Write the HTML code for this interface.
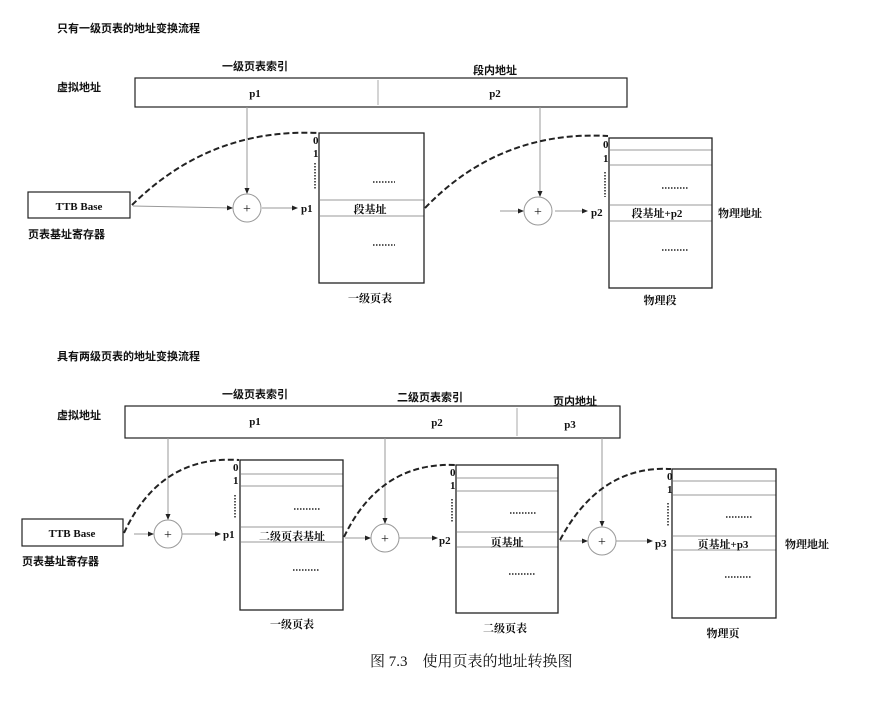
<!DOCTYPE html>
<html><head><meta charset="utf-8"><style>
body{margin:0;background:#fff}
svg text{font-family:"Liberation Serif","Noto Serif CJK SC","WenQuanYi Zen Hei",serif;fill:#111}
.b{font-weight:bold;font-family:"Liberation Serif","Noto Sans CJK SC",serif}
</style></head><body>
<svg width="871" height="705" viewBox="0 0 871 705" xmlns="http://www.w3.org/2000/svg">
<defs><marker id="a" markerWidth="6" markerHeight="6" refX="5" refY="3" orient="auto"><path d="M0,0.5 L6,3 L0,5.5z" fill="#222"/></marker></defs>
<g font-size="11" class="b">
<text x="57" y="32" class="b">只有一级页表的地址变换流程</text>
<text x="255" y="70" text-anchor="middle" class="b">一级页表索引</text>
<text x="495" y="74" text-anchor="middle" class="b">段内地址</text>
<text x="57" y="91" class="b">虚拟地址</text>
</g>
<rect x="135" y="78" width="492" height="29" fill="none" stroke="#222" stroke-width="1.2"/>
<line x1="378" y1="80" x2="378" y2="105" stroke="#aaa"/>
<text x="255" y="97" font-size="11" text-anchor="middle" class="b">p1</text>
<text x="495" y="97" font-size="11" text-anchor="middle" class="b">p2</text>
<rect x="28" y="192" width="102" height="26" fill="none" stroke="#222" stroke-width="1.2"/>
<text x="79" y="210" font-size="11" text-anchor="middle" class="b">TTB Base</text>
<text x="28" y="238" font-size="11" class="b">页表基址寄存器</text>
<g stroke="#999" fill="none">
<line x1="247" y1="107" x2="247" y2="193" marker-end="url(#a)"/>
<line x1="133" y1="206" x2="232" y2="208" marker-end="url(#a)"/>
<line x1="262" y1="208" x2="297" y2="208" marker-end="url(#a)"/>
<circle cx="247" cy="208" r="14"/>
<line x1="540" y1="107" x2="540" y2="196" marker-end="url(#a)"/>
<line x1="500" y1="211" x2="523" y2="211" marker-end="url(#a)"/>
<line x1="555" y1="211" x2="587" y2="211" marker-end="url(#a)"/>
<circle cx="538" cy="211" r="14"/>
<line x1="320" y1="200" x2="424" y2="200"/><line x1="320" y1="216" x2="424" y2="216"/>
<line x1="610" y1="150" x2="712" y2="150"/><line x1="610" y1="165" x2="712" y2="165"/>
<line x1="610" y1="205" x2="712" y2="205"/><line x1="610" y1="221" x2="712" y2="221"/>
</g>
<text x="247" y="213" font-size="14" text-anchor="middle">+</text>
<text x="538" y="216" font-size="14" text-anchor="middle">+</text>
<rect x="319" y="133" width="105" height="150" fill="none" stroke="#222" stroke-width="1.3"/>
<rect x="609" y="138" width="103" height="150" fill="none" stroke="#222" stroke-width="1.3"/>
<g font-size="11" class="b">
<text x="313" y="144">0</text><text x="313" y="157">1</text>
<text x="301" y="212">p1</text>
<text x="370" y="213" text-anchor="middle">段基址</text>
<text x="370" y="302" text-anchor="middle">一级页表</text>
<text x="603" y="148">0</text><text x="603" y="162">1</text>
<text x="591" y="216">p2</text>
<text x="657" y="217" text-anchor="middle">段基址+p2</text>
<text x="718" y="217">物理地址</text>
<text x="660" y="304" text-anchor="middle">物理段</text>
</g>
<g stroke="#222" stroke-width="1.5" stroke-dasharray="1.5,1.5">
<line x1="315" y1="163" x2="315" y2="190"/><line x1="605" y1="172" x2="605" y2="197"/>
<line x1="373" y1="182" x2="395" y2="182"/><line x1="373" y1="245" x2="395" y2="245"/>
<line x1="662" y1="188" x2="688" y2="188"/><line x1="662" y1="250" x2="688" y2="250"/>
</g>
<g stroke="#222" stroke-width="2" fill="none" stroke-dasharray="6,3">
<path d="M132,205 Q210,128 318,133"/>
<path d="M425,208 Q500,130 608,136"/>
</g>

<g font-size="11" class="b">
<text x="57" y="360" class="b">具有两级页表的地址变换流程</text>
<text x="255" y="398" text-anchor="middle" class="b">一级页表索引</text>
<text x="430" y="401" text-anchor="middle" class="b">二级页表索引</text>
<text x="575" y="405" text-anchor="middle" class="b">页内地址</text>
<text x="57" y="419" class="b">虚拟地址</text>
</g>
<rect x="125" y="406" width="495" height="32" fill="none" stroke="#222" stroke-width="1.2"/>
<line x1="517" y1="408" x2="517" y2="436" stroke="#aaa"/>
<text x="255" y="425" font-size="11" text-anchor="middle" class="b">p1</text>
<text x="437" y="426" font-size="11" text-anchor="middle" class="b">p2</text>
<text x="570" y="428" font-size="11" text-anchor="middle" class="b">p3</text>
<rect x="22" y="519" width="101" height="27" fill="none" stroke="#222" stroke-width="1.2"/>
<text x="72" y="537" font-size="11" text-anchor="middle" class="b">TTB Base</text>
<text x="22" y="565" font-size="11" class="b">页表基址寄存器</text>
<g stroke="#999" fill="none">
<line x1="168" y1="438" x2="168" y2="519" marker-end="url(#a)"/>
<line x1="134" y1="534" x2="153" y2="534" marker-end="url(#a)"/>
<line x1="182" y1="534" x2="220" y2="534" marker-end="url(#a)"/>
<circle cx="168" cy="534" r="14"/>
<line x1="385" y1="438" x2="385" y2="523" marker-end="url(#a)"/>
<line x1="345" y1="538" x2="370" y2="538" marker-end="url(#a)"/>
<line x1="399" y1="538" x2="437" y2="538" marker-end="url(#a)"/>
<circle cx="385" cy="538" r="14"/>
<line x1="602" y1="438" x2="602" y2="526" marker-end="url(#a)"/>
<line x1="560" y1="541" x2="587" y2="541" marker-end="url(#a)"/>
<line x1="616" y1="541" x2="652" y2="541" marker-end="url(#a)"/>
<circle cx="602" cy="541" r="14"/>
<line x1="241" y1="474" x2="343" y2="474"/><line x1="241" y1="486" x2="343" y2="486"/>
<line x1="241" y1="527" x2="343" y2="527"/><line x1="241" y1="542" x2="343" y2="542"/>
<line x1="457" y1="478" x2="558" y2="478"/><line x1="457" y1="491" x2="558" y2="491"/>
<line x1="457" y1="532" x2="558" y2="532"/><line x1="457" y1="547" x2="558" y2="547"/>
<line x1="673" y1="481" x2="776" y2="481"/><line x1="673" y1="495" x2="776" y2="495"/>
<line x1="673" y1="536" x2="776" y2="536"/><line x1="673" y1="550" x2="776" y2="550"/>
</g>
<text x="168" y="539" font-size="14" text-anchor="middle">+</text>
<text x="385" y="543" font-size="14" text-anchor="middle">+</text>
<text x="602" y="546" font-size="14" text-anchor="middle">+</text>
<rect x="240" y="460" width="103" height="150" fill="none" stroke="#222" stroke-width="1.3"/>
<rect x="456" y="465" width="102" height="148" fill="none" stroke="#222" stroke-width="1.3"/>
<rect x="672" y="469" width="104" height="149" fill="none" stroke="#222" stroke-width="1.3"/>
<g font-size="11" class="b">
<text x="233" y="471">0</text><text x="233" y="484">1</text>
<text x="223" y="538">p1</text>
<text x="292" y="540" text-anchor="middle">二级页表基址</text>
<text x="292" y="628" text-anchor="middle">一级页表</text>
<text x="450" y="476">0</text><text x="450" y="489">1</text>
<text x="439" y="544">p2</text>
<text x="507" y="546" text-anchor="middle">页基址</text>
<text x="505" y="632" text-anchor="middle">二级页表</text>
<text x="667" y="480">0</text><text x="667" y="493">1</text>
<text x="655" y="547">p3</text>
<text x="723" y="548" text-anchor="middle">页基址+p3</text>
<text x="785" y="548">物理地址</text>
<text x="723" y="637" text-anchor="middle">物理页</text>
</g>
<g stroke="#222" stroke-width="1.5" stroke-dasharray="1.5,1.5">
<line x1="235" y1="495" x2="235" y2="518"/><line x1="452" y1="499" x2="452" y2="522"/><line x1="668" y1="503" x2="668" y2="527"/>
<line x1="294" y1="509" x2="320" y2="509"/><line x1="293" y1="570" x2="319" y2="570"/>
<line x1="510" y1="513" x2="536" y2="513"/><line x1="509" y1="574" x2="535" y2="574"/>
<line x1="726" y1="517" x2="752" y2="517"/><line x1="725" y1="577" x2="751" y2="577"/>
</g>
<g stroke="#222" stroke-width="2" fill="none" stroke-dasharray="6,3">
<path d="M124,533 Q160,455 239,460"/>
<path d="M344,537 Q380,462 455,465"/>
<path d="M560,540 Q600,465 671,469"/>
</g>
<text x="370" y="666" font-size="15">图 7.3　使用页表的地址转换图</text>
</svg>
</body></html>
